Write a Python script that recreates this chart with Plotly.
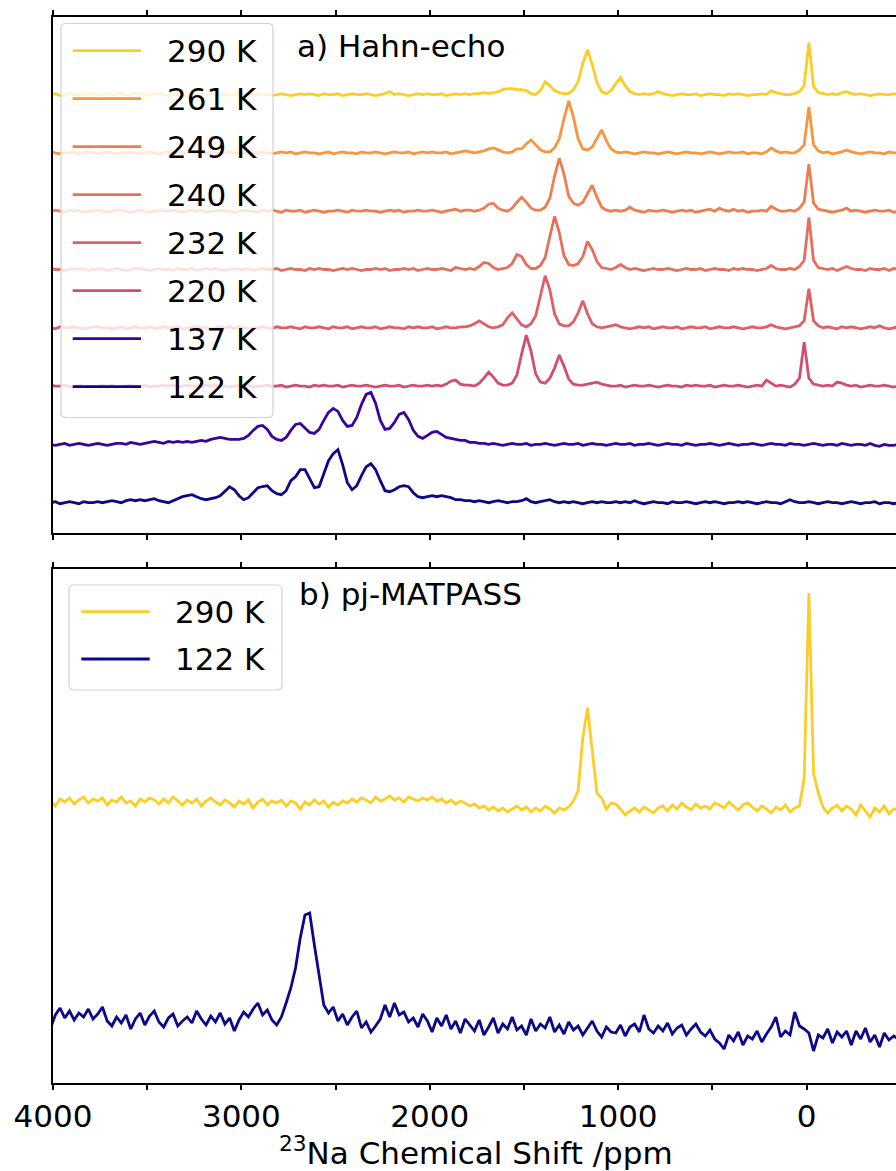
import numpy as np
import plotly.graph_objects as go

# ---------------- data ----------------
# chemical-shift sampling grid (ppm): 4012.5 ... -487.5, 25 ppm spacing
PPM_START, PPM_STEP, N_PTS = 4012.5, -25.0, 181
ppm = PPM_START + PPM_STEP * np.arange(N_PTS)

labels_a = ["290 K", "261 K", "249 K", "240 K", "232 K", "220 K", "137 K", "122 K"]
labels_b = ["290 K", "122 K"]

# a) Hahn-echo spectra (arbitrary units, baseline = 0)
hahn_290 = [
    0, 1, -1, 0, 1, 0, -1, 1, 0, 1,
    0, -1, 1, 0, 0, 1, -1, 0, 1, 0,
    -1, 0, 1, 1, 0, -1, 0, 1, 0, -1,
    0, 1, 0, -1, 1, 0, 0, 1, -1, 0,
    1, 0, -1, 0, 1, 0, 1, -1, 0, 1,
    0, -1, 0, 1, 0, 1, 0, -1, 1, 0,
    0, 1, -1, 0, 1, 0, 0, 1, 0, -1,
    0, 1, 3, 0, 1, 0, -1, 0, 1, 0,
    1, 0, 0, 1, -1, 0, 1, 0, 1, 0,
    1, 1, 2, 1, 2, 3, 5, 6, 6, 5,
    5, 4, 1, 0, 4, 13, 9, 4, 2, 1,
    1, 5, 13, 31, 45, 30, 12, 3, 1, 4,
    11, 17, 9, 3, 1, 0, 1, 0, 1, 3,
    1, 0, -1, 0, 1, 0, 0, 1, -1, 0,
    1, 0, 0, -1, 1, 0, 1, 0, -1, 0,
    0, 1, 0, 4, 2, 1, 0, 0, 1, 3,
    9, 52, 8, 2, 1, 0, 1, 0, 2, 3,
    1, 0, 1, 0, -1, 0, 1, 0, 0, 1, 0]
hahn_261 = [
    1, 0, -1, 0, 0, 1, -1, 0, 1, 0,
    -1, 0, 1, 0, -1, 0, 0, 1, 0, -1,
    0, 1, 0, -1, 0, 1, 1, 0, -1, 0,
    1, 0, 0, -1, 1, 0, -1, 0, 1, 0,
    0, -1, 1, 0, 0, 1, 0, -1, 0, 1,
    0, 1, -1, 0, 1, 0, 0, -1, 0, 1,
    -1, 0, 1, 0, 0, -1, 1, 0, 0, 1,
    0, -1, 0, 1, 0, 0, 1, -1, 0, 1,
    0, 1, 0, 0, 1, -1, 0, 1, 2, 1,
    0, 1, 2, 4, 5, 3, 1, 0, 1, 4,
    4, 9, 13, 8, 3, 1, 1, 5, 14, 34,
    52, 36, 14, 4, 3, 6, 14, 23, 12, 4,
    1, 0, 1, 0, -1, 0, 1, 0, 0, -1,
    0, 1, 0, -1, 0, 1, 0, 0, -1, 0,
    1, 0, -1, 0, 1, 0, 0, 1, -1, 0,
    0, -1, 1, 5, 2, 0, 1, 0, 0, 3,
    8, 46, 8, 2, 0, 1, -1, 0, 1, 3,
    1, 0, -1, 0, 1, 0, 0, -1, 1, 0, 0]
hahn_249 = [
    0, 1, 0, -1, 1, 0, 1, -1, 0, 0,
    1, 0, -1, 0, 1, 1, 0, -1, 0, 1,
    0, -1, 0, 1, 0, 0, 1, 0, -1, 0,
    1, 0, 1, -1, 0, 0, 1, 0, 0, -1,
    0, 1, 0, 0, -1, 1, 0, 1, 0, -1,
    1, 0, 0, 1, -1, 0, 1, 0, -1, 0,
    0, 1, 0, -1, 1, 0, 0, 1, 0, 0,
    -1, 0, 1, 0, 1, -1, 0, 0, 1, 0,
    0, 1, 0, -1, 0, 1, 2, 0, 1, 1,
    0, 1, 3, 7, 8, 3, 1, 0, 3, 9,
    14, 9, 3, 1, 1, 4, 13, 35, 53, 37,
    15, 8, 6, 9, 17, 26, 14, 4, 1, 0,
    1, 0, 1, 4, 1, 0, -1, 1, 0, 0,
    1, 0, -1, 0, 1, 0, 1, -1, 0, 1,
    2, 0, 3, 1, 0, 2, 0, 1, -1, 0,
    0, 1, 0, 5, 2, 0, 0, 1, 0, 3,
    9, 47, 8, 2, 1, 0, -1, 0, 1, 3,
    0, 1, 0, -1, 0, 1, 0, 0, 1, -1, 0]
hahn_240 = [
    1, 0, 0, -1, 0, 1, 0, 1, -1, 0,
    0, 1, -1, 0, 1, 0, -1, 0, 1, 1,
    0, -1, 0, 1, 0, 0, -1, 1, 0, 0,
    1, -1, 0, 1, 0, 1, 0, -1, 0, 1,
    0, 0, 1, -1, 0, 1, 0, 0, 1, -1,
    0, 1, 0, 0, -1, 1, 0, 1, 0, 0,
    -1, 0, 1, 0, 1, 0, -1, 0, 0, 1,
    0, 1, -1, 0, 0, 1, 0, 1, -1, 0,
    1, 0, 0, 1, 0, -1, 2, 1, 0, 1,
    0, 3, 7, 6, 2, 0, 1, 2, 6, 15,
    13, 5, 1, 1, 4, 12, 33, 53, 37, 14,
    5, 4, 6, 13, 28, 20, 8, 2, 1, 0,
    2, 5, 2, 0, 1, 0, -1, 0, 1, 0,
    0, 1, 0, -1, 0, 1, 0, 0, 1, -1,
    0, 1, 0, 0, -1, 1, 0, 1, 0, 0,
    -1, 0, 1, 4, 1, 0, 0, 1, 0, 3,
    9, 52, 9, 2, 1, 0, 1, -1, 1, 3,
    1, 0, 0, -1, 1, 0, 0, 1, -1, 1, 0]
hahn_232 = [
    0, -1, 1, 0, 0, 1, 0, -1, 0, 1,
    1, 0, 0, -1, 0, 1, -1, 0, 1, 0,
    0, 1, -1, 0, 1, 0, 0, 1, -1, 0,
    0, 1, 0, 0, -1, 0, 1, 0, 1, -1,
    1, 0, -1, 0, 0, 1, 0, -1, 1, 0,
    0, 1, 0, -1, 1, 0, 0, 1, 0, -1,
    1, 0, 0, 1, -1, 0, 1, 0, 0, 1,
    -1, 0, 1, 0, 0, -1, 1, 0, 1, 0,
    0, 1, -1, 0, 1, 0, 0, 1, 1, 2,
    4, 7, 4, 1, 0, 1, 3, 10, 15, 9,
    3, 1, 4, 12, 33, 52, 38, 14, 4, 2,
    2, 6, 15, 27, 14, 4, 1, 0, 1, 2,
    3, 1, 0, -1, 0, 1, 0, 1, -1, 0,
    1, 0, 0, 1, -1, 0, 1, 0, 0, 1,
    -1, 0, 1, 0, 0, 1, 0, -1, 0, 1,
    0, 0, 1, 3, 1, 0, -1, 0, 1, 2,
    7, 39, 7, 2, 0, 1, 0, -1, 1, 0,
    1, 0, -1, 0, 1, 0, 2, 0, -1, 0, 1]
hahn_220 = [
    1, 0, 0, 1, -1, 0, 1, 0, 0, -1,
    0, 1, 0, 1, -1, 0, 0, 1, 0, 0,
    1, -1, 0, 0, 1, 0, 1, -1, 0, 1,
    0, 0, -1, 1, 0, 1, 0, 0, -1, 0,
    1, 0, 1, -1, 0, 0, 1, 0, 0, 1,
    -1, 0, 1, 0, 0, -1, 1, 0, 1, 0,
    0, 1, -1, 0, 1, 0, 0, 1, 0, -1,
    0, 1, 0, 0, 1, -1, 0, 1, 0, 0,
    1, 0, 1, 0, 2, 5, 6, 2, 1, 1,
    0, 3, 8, 14, 9, 3, 1, 1, 3, 11,
    32, 51, 35, 12, 4, 3, 8, 18, 31, 20,
    7, 2, 1, 1, 2, 3, 4, 2, 1, 0,
    0, 1, -1, 0, 1, 0, 0, 1, 0, -1,
    0, 1, 0, 0, -1, 1, 0, 1, 0, 0,
    1, -1, 0, 1, 0, 0, 1, 0, -1, 0,
    1, 0, 6, 3, 0, 1, 0, -1, 2, 8,
    44, 8, 2, 1, 0, 1, 0, 4, 3, 1,
    0, 1, -1, 0, 1, 0, 0, 1, 0, -1, 0]
hahn_137 = [
    0, -1, 0, 1, -1, 0, 1, 0, -1, 0,
    1, 0, -1, 0, 1, 1, 0, 2, 1, 0,
    1, 2, 3, 2, 1, 3, 2, 3, 2, 3,
    2, 3, 4, 3, 5, 6, 7, 6, 5, 5,
    5, 6, 9, 14, 18, 19, 15, 8, 5, 4,
    7, 14, 20, 21, 16, 12, 11, 15, 24, 32,
    36, 33, 24, 18, 19, 27, 40, 50, 52, 41,
    24, 15, 16, 22, 30, 32, 25, 14, 8, 6,
    9, 12, 13, 10, 7, 6, 5, 4, 4, 2,
    2, 1, 1, 0, 1, 0, -1, 0, 1, 0,
    0, 1, -1, 0, 0, 1, 0, -1, 0, 1,
    0, 0, 1, -1, 0, 1, 0, 0, -1, 0,
    1, 0, 0, 1, -1, 0, 0, 1, 0, -1,
    0, 1, 0, 0, -1, 1, 0, -1, 0, 0,
    1, 0, -1, 0, 1, 0, -1, 0, 0, 1,
    0, -1, 0, 1, 0, 0, -1, 1, 0, 0,
    -1, 0, 1, 0, -1, 0, 0, -1, 1, 0,
    -1, 0, 0, -1, 1, -1, -2, 0, -1, -1, 0]
hahn_122 = [
    0, 1, -1, 0, 1, 0, -1, 1, 0, 0,
    1, 0, 1, 2, 1, 0, 2, 3, 2, 3,
    2, 3, 4, 2, 1, 0, 2, 4, 6, 7,
    8, 6, 4, 3, 4, 5, 7, 12, 16, 13,
    7, 3, 5, 10, 15, 16, 17, 12, 9, 8,
    12, 22, 26, 33, 33, 24, 15, 16, 28, 42,
    49, 53, 38, 20, 13, 17, 27, 36, 39, 33,
    22, 12, 11, 13, 16, 17, 16, 10, 6, 5,
    6, 7, 6, 7, 6, 5, 3, 3, 2, 2,
    1, 2, 1, 0, 1, 2, 1, 0, 1, 1,
    2, 4, 1, 0, 1, 2, 3, 1, 0, 1,
    0, 1, 0, -1, 0, 1, 0, 1, 0, 0,
    1, 0, 1, 0, 2, 0, -1, 0, 1, 0,
    0, -1, 1, 0, 0, 1, 0, -1, 0, 1,
    0, 1, 0, -1, 0, 0, 1, 0, 1, 0,
    -1, 0, 1, 0, 0, -1, 1, 3, 1, 0,
    0, 1, 0, -1, 0, 1, 0, 0, -1, 0,
    1, 0, -1, 0, 0, 1, -1, 0, 0, -1, 0]

# b) pj-MATPASS spectra (arbitrary units, baseline = 0)
matpass_290 = [
    2, -3, 4, 1, 5, -1, 3, 6, 0, 4,
    2, 5, -2, 3, 1, 6, 0, 2, -3, 4,
    1, 5, 3, -1, 4, 0, 6, 2, -2, 3,
    0, 4, -3, 2, 5, 1, -2, 3, 0, -4,
    2, -1, 3, -5, 1, 4, -2, 2, 0, 3,
    -3, 2, 0, -6, 1, -2, 3, -1, 2, -4,
    1, -2, 2, 0, 4, 1, 5, 3, 0, 6,
    2, 4, 7, 3, 5, 1, 6, 4, 2, 5,
    3, 6, 2, 4, 0, 3, -1, 2, 0, -3,
    -1, -5, -3, -7, -4, -8, -5, -9, -6, -3,
    -7, -4, -9, -5, -8, -3, -6, -10, -5, -7,
    -4, 2, 12, 65, 95, 50, 10, 5, -6, 0,
    -1, -6, -12, -8, -5, -9, -4, -7, -10, -5,
    -3, -8, -2, -6, 0, -4, -7, -1, -5, -3,
    -6, 0, -2, -5, 1, -3, -7, -2, 0, -4,
    -8, -3, -6, -10, -4, -7, -2, -9, -5, -3,
    25, 210, 30, 10, -4, -10, -5, -2, -8, -3,
    -6, -12, -2, -8, -14, -5, -9, -3, -11, -6, -7]
matpass_122 = [
    -5, 8, 15, 5, 12, 3, 10, 6, 14, 4,
    9, 16, 2, -3, 6, 0, 8, -6, 4, 10,
    -2, 7, 12, 1, -4, 5, 9, -3, 2, 6,
    0, 12, 4, -2, 7, 1, 10, -1, 5, -8,
    3, 11, 6, 14, 20, 8, 13, 3, -2, 6,
    20, 35, 55, 85, 108, 110, 78, 50, 18, 10,
    16, 2, 9, -2, 6, 12, -5, 1, -9, -3,
    4, 18, 6, 20, 8, 11, 1, 5, -4, 9,
    2, -9, 5, -3, 8, -6, 2, -10, 4, -2,
    -8, 3, -12, -4, 5, -10, -1, -6, 6, -7,
    -3, -12, 4, -8, -1, -5, 6, -9, -2, -11,
    1, -7, -3, -12, -5, 2, -8, -14, -4, -9,
    -10, -2, -13, -4, -1, -9, 8, -6, -10, -3,
    -8, 0, -11, -5, -2, -12, -6, -1, -9, -13,
    -7, -16, -20, -26, -12, -18, -9, -22, -13, -16,
    -8, -19, -11, -4, 6, -14, -8, -12, 11, -3,
    -6, -10, -28, -12, -15, -6, -20, -9, -14, -8,
    -22, -8, -16, -5, -19, -12, -24, -10, -17, -13, -16]

hahn_series = [hahn_290, hahn_261, hahn_249, hahn_240, hahn_232, hahn_220, hahn_137, hahn_122]
matpass_series = [matpass_290, matpass_122]
for s in hahn_series + matpass_series:
    assert len(s) == N_PTS, len(s)

# ---------------- styling / layout ----------------
colors = {"290 K": "#fcce25", "261 K": "#f89540", "249 K": "#ee7e50", "240 K": "#e76e5b",
          "232 K": "#de6065", "220 K": "#d14e72", "137 K": "#3a049a", "122 K": "#0d0887"}
# vertical stacking offsets (same arbitrary units as the spectra)
offsets_a = {"122 K": 30.3, "137 K": 88.6, "220 K": 146.9, "232 K": 205.2,
             "240 K": 263.5, "249 K": 321.8, "261 K": 380.1, "290 K": 438.4}
offsets_b = {"290 K": 280, "122 K": 60}
YRANGE_A = [0, 516]
YRANGE_B = [0, 514]
XRANGE = [4000, -475]

W, H = 896, 1171
ML = 53
FONT = "DejaVu Sans"
FS = 31
LW = 2.8


def xp(px):
    return (px - ML) / (W - ML)


def yp(py):
    return (H - py) / H


fig = go.Figure()
for lab, vals in zip(labels_a, hahn_series):
    fig.add_trace(go.Scatter(x=ppm, y=np.array(vals, float) + offsets_a[lab], mode="lines",
                             line=dict(color=colors[lab], width=LW), xaxis="x", yaxis="y",
                             showlegend=False, hoverinfo="skip"))
for lab, vals in zip(labels_b, matpass_series):
    fig.add_trace(go.Scatter(x=ppm, y=np.array(vals, float) + offsets_b[lab], mode="lines",
                             line=dict(color=colors[lab], width=LW), xaxis="x2", yaxis="y2",
                             showlegend=False, hoverinfo="skip"))

xcommon = dict(range=XRANGE, showline=True, linecolor="black", linewidth=2, mirror="allticks",
               ticks="outside", ticklen=5, tickwidth=1.6, tickcolor="black",
               tick0=0, dtick=1000,
               minor=dict(dtick=500, ticks="outside", ticklen=5, tickwidth=1.6, tickcolor="black"),
               showgrid=False, zeroline=False, domain=[0, 1])
ycommon = dict(showline=True, linecolor="black", linewidth=2, ticks="", showticklabels=False,
               showgrid=False, zeroline=False)

fig.update_layout(
    width=W, height=H,
    margin=dict(l=ML, r=0, t=0, b=0),
    paper_bgcolor="white", plot_bgcolor="white",
    font=dict(family=FONT, size=FS, color="black"),
    showlegend=False,
    xaxis=dict(**xcommon, anchor="y", showticklabels=False),
    xaxis2=dict(**xcommon, anchor="y2", showticklabels=True,
                tickfont=dict(family=FONT, size=FS, color="black")),
    yaxis=dict(**ycommon, domain=[yp(533), yp(17)], range=YRANGE_A),
    yaxis2=dict(**ycommon, domain=[yp(1083), yp(569)], range=YRANGE_B),
)


def rounded_box(left, top, w, h, r=5):
    path = (f"M {r},0 L {w - r},0 Q {w},0 {w},{-r} L {w},{-(h - r)} Q {w},{-h} {w - r},{-h} "
            f"L {r},{-h} Q 0,{-h} 0,{-(h - r)} L 0,{-r} Q 0,0 {r},0 Z")
    return dict(type="path", xref="paper", yref="paper", xsizemode="pixel", ysizemode="pixel",
                xanchor=xp(left), yanchor=yp(top), path=path,
                fillcolor="rgba(255,255,255,0.8)", line=dict(color="#d3d3d3", width=1.2),
                layer="above")


shapes = []
annotations = []


def add_legend(labs, box, line_x0, line_x1, text_x, first_y, step):
    shapes.append(rounded_box(*box))
    for k, lab in enumerate(labs):
        yy = first_y + step * k
        shapes.append(dict(type="line", xref="paper", yref="paper", x0=xp(line_x0), x1=xp(line_x1),
                           y0=yp(yy), y1=yp(yy), line=dict(color=colors[lab], width=LW), layer="above"))
        annotations.append(dict(text=lab, xref="paper", yref="paper", x=xp(text_x), y=yp(yy),
                                xanchor="left", yanchor="middle", showarrow=False,
                                font=dict(family=FONT, size=FS, color="black")))


add_legend(labels_a, (61, 23.5, 212, 394), 72.7, 141, 165, 50.7, 48)
add_legend(labels_b, (69, 585, 213, 105), 81.3, 149.7, 173, 611.7, 47.3)

annotations.append(dict(text="a) Hahn-echo", xref="paper", yref="paper", x=xp(295), y=yp(46),
                        xanchor="left", yanchor="middle", showarrow=False,
                        font=dict(family=FONT, size=FS, color="black")))
annotations.append(dict(text="b) pj-MATPASS", xref="paper", yref="paper", x=xp(297), y=yp(594),
                        xanchor="left", yanchor="middle", showarrow=False,
                        font=dict(family=FONT, size=FS, color="black")))
annotations.append(dict(text="<sup>23</sup>Na Chemical Shift /ppm", xref="paper", yref="paper",
                        x=xp(476), y=yp(1151), xanchor="center", yanchor="middle", showarrow=False,
                        font=dict(family=FONT, size=FS, color="black")))

fig.update_layout(shapes=shapes, annotations=annotations)
fig.write_html("out.html")
